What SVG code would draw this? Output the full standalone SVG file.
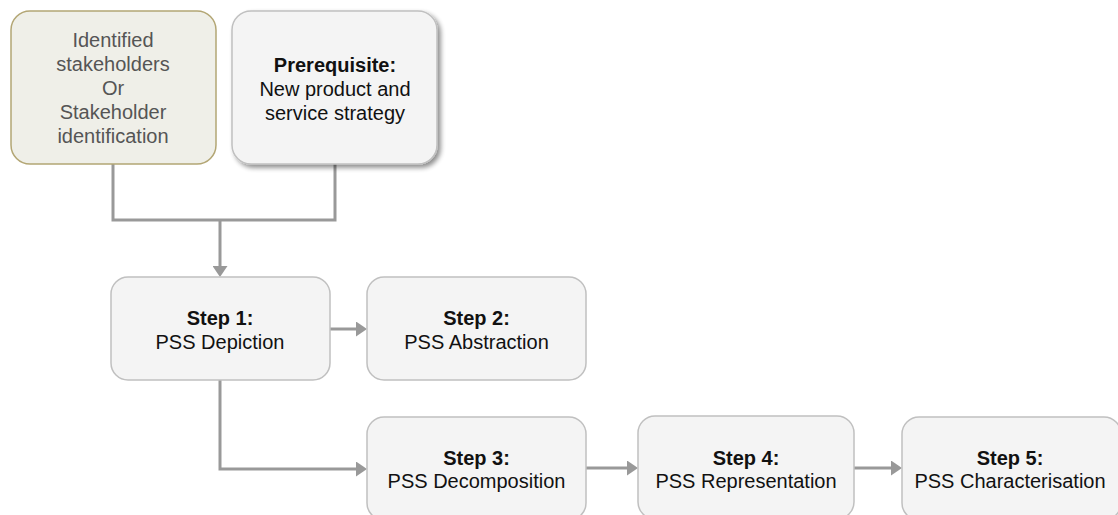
<svg xmlns="http://www.w3.org/2000/svg" width="1118" height="515" viewBox="0 0 1118 515">
<defs>
<style>
.box{fill:#f4f4f4;stroke:#c0c0c0;stroke-width:1.5}
.sh{fill:#efefe8;stroke:#b3a674;stroke-width:1.5}
.t{font-family:"Liberation Sans",Arial,sans-serif;font-size:20px;text-anchor:middle;fill:#111}
.g{fill:#555}
.b{font-weight:bold}
.c{fill:none;stroke:#999;stroke-width:3}
</style>
<marker id="ah" markerWidth="11" markerHeight="15" refX="0" refY="7.5" orient="auto" markerUnits="userSpaceOnUse">
<path d="M0,0 L11,7.5 L0,15 Z" fill="#999"/>
</marker>
<filter id="shadow" x="-10%" y="-10%" width="130%" height="130%">
<feGaussianBlur in="SourceAlpha" stdDeviation="2.5"/>
<feOffset dx="3" dy="3" result="o"/>
<feComponentTransfer><feFuncA type="linear" slope="0.45"/></feComponentTransfer>
<feMerge><feMergeNode/><feMergeNode in="SourceGraphic"/></feMerge>
</filter>
</defs>
<rect width="1118" height="515" fill="#fff"/>
<g id="connectors">
<polyline class="c" points="113,164 113,220 335,220 335,164"/>
<line class="c" x1="220" y1="220" x2="220" y2="266" marker-end="url(#ah)"/>
<line class="c" x1="330" y1="329" x2="356" y2="329" marker-end="url(#ah)"/>
<polyline class="c" points="220,380 220,469 356,469" marker-end="url(#ah)"/>
<line class="c" x1="586" y1="468" x2="627" y2="468" marker-end="url(#ah)"/>
<line class="c" x1="854" y1="468" x2="891" y2="468" marker-end="url(#ah)"/>
</g>
<g id="stakeholders">
<rect class="sh" x="11" y="11" width="205" height="153" rx="19"/>
<text class="t g" x="113" y="47">Identified</text>
<text class="t g" x="113" y="71">stakeholders</text>
<text class="t g" x="113" y="95">Or</text>
<text class="t g" x="113" y="119">Stakeholder</text>
<text class="t g" x="113" y="143">identification</text>
</g>
<g id="prerequisite">
<rect class="box" x="232" y="11" width="205" height="153" rx="19" filter="url(#shadow)"/>
<text class="t b" x="335" y="72">Prerequisite:</text>
<text class="t" x="335" y="96">New product and</text>
<text class="t" x="335" y="120">service strategy</text>
</g>
<g id="step1">
<rect class="box" x="111" y="277" width="219" height="103" rx="17"/>
<text class="t b" x="220" y="325">Step 1:</text>
<text class="t" x="220" y="349">PSS Depiction</text>
</g>
<g id="step2">
<rect class="box" x="367" y="277" width="219" height="103" rx="17"/>
<text class="t b" x="476.5" y="325">Step 2:</text>
<text class="t" x="476.5" y="349">PSS Abstraction</text>
</g>
<g id="step3">
<rect class="box" x="367" y="417" width="219" height="103" rx="17"/>
<text class="t b" x="476.5" y="465">Step 3:</text>
<text class="t" x="476.5" y="488">PSS Decomposition</text>
</g>
<g id="step4">
<rect class="box" x="638" y="416" width="216" height="103" rx="17"/>
<text class="t b" x="746" y="465">Step 4:</text>
<text class="t" x="746" y="488">PSS Representation</text>
</g>
<g id="step5">
<rect class="box" x="902" y="417" width="219" height="103" rx="17"/>
<text class="t b" x="1010" y="465">Step 5:</text>
<text class="t" x="1010" y="488">PSS Characterisation</text>
</g>
</svg>
